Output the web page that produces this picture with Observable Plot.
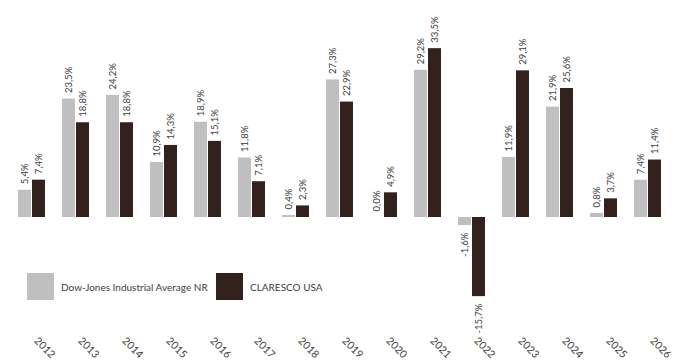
<!DOCTYPE html>
<html>
<head>
<meta charset="utf-8">
<script src="https://cdn.jsdelivr.net/npm/d3@7"></script>
<script src="https://cdn.jsdelivr.net/npm/@observablehq/plot@0.6"></script>
<style>
  html, body { margin: 0; padding: 0; background: #fff; }
  #wrap { position: relative; width: 684px; height: 360px; font-family: Lato, "Open Sans", sans-serif; }
  .legend { position: absolute; left: 0; top: 273px; height: 27px; display: flex; align-items: center; font-size: 10px; color: #404040; }
  .legend .sw { width: 27px; height: 27px; display: inline-block; }
  .legend .item { display: flex; align-items: center; position: absolute; white-space: nowrap; }
  .legend .item span.lbl { margin-left: 7px; }
</style>
</head>
<body>
<div id="wrap"></div>
<script>
const years = ["2012","2013","2014","2015","2016","2017","2018","2019","2020","2021","2022","2023","2024","2025","2026"];
const seriesNames = ["Dow-Jones Industrial Average NR", "CLARESCO USA"];
const dowValues = [5.4, 23.5, 24.2, 10.9, 18.9, 11.8, 0.4, 27.3, 0.0, 29.2, -1.6, 11.9, 21.9, 0.8, 7.4];
const clarescoValues = [7.4, 18.8, 18.8, 14.3, 15.1, 7.1, 2.3, 22.9, 4.9, 33.5, -15.7, 29.1, 25.6, 3.7, 11.4];
const seriesColors = ["#bfbfbf", "#33211e"];

const data = [];
years.forEach((yr, i) => {
  data.push({year: yr, series: seriesNames[0], value: dowValues[i]});
  data.push({year: yr, series: seriesNames[1], value: clarescoValues[i]});
});
const fmt = d => d.value.toFixed(1).replace(".", ",") + "%";
const pos = data.filter(d => d.value >= 0);
const neg = data.filter(d => d.value < 0);

const chart = Plot.plot({
  width: 684,
  height: 360,
  marginTop: 15.4,
  marginBottom: 42.2,
  marginLeft: 6,
  marginRight: 10.5,
  style: {fontFamily: "Lato, 'Open Sans', sans-serif", color: "#404040", background: "#fff"},
  fx: {domain: years, paddingInner: 0.35, paddingOuter: 0.1, axis: null, label: null},
  x: {domain: seriesNames, axis: null, paddingInner: 0.05, paddingOuter: 0},
  y: {domain: [-20, 40], axis: null},
  color: {domain: seriesNames, range: seriesColors},
  marks: [
    Plot.barY(data, {fx: "year", x: "series", y: "value", fill: "series"}),
    Plot.text(pos, {fx: "year", x: "series", y: "value", text: fmt, rotate: -90, textAnchor: "start", dy: -6, fontSize: 9.5, fill: "#404040"}),
    Plot.text(neg, {fx: "year", x: "series", y: "value", text: fmt, rotate: -90, textAnchor: "end", dy: 7, fontSize: 9.5, fill: "#404040"}),
    Plot.axisFx({anchor: "bottom", tickRotate: 45, tickSize: 0, textAnchor: "start", dy: 9, dx: 4, fontSize: 10.5, label: null, fill: "#404040"})
  ]
});

const wrap = document.getElementById("wrap");
wrap.appendChild(chart);
const legend = document.createElement("div");
legend.className = "legend";
const lefts = [27, 216];
seriesNames.forEach((name, i) => {
  const item = document.createElement("div");
  item.className = "item";
  item.style.left = lefts[i] + "px";
  const sw = document.createElement("span");
  sw.className = "sw";
  sw.style.background = seriesColors[i];
  const lbl = document.createElement("span");
  lbl.className = "lbl";
  lbl.textContent = name;
  item.appendChild(sw);
  item.appendChild(lbl);
  legend.appendChild(item);
});
wrap.appendChild(legend);
</script>
</body>
</html>
